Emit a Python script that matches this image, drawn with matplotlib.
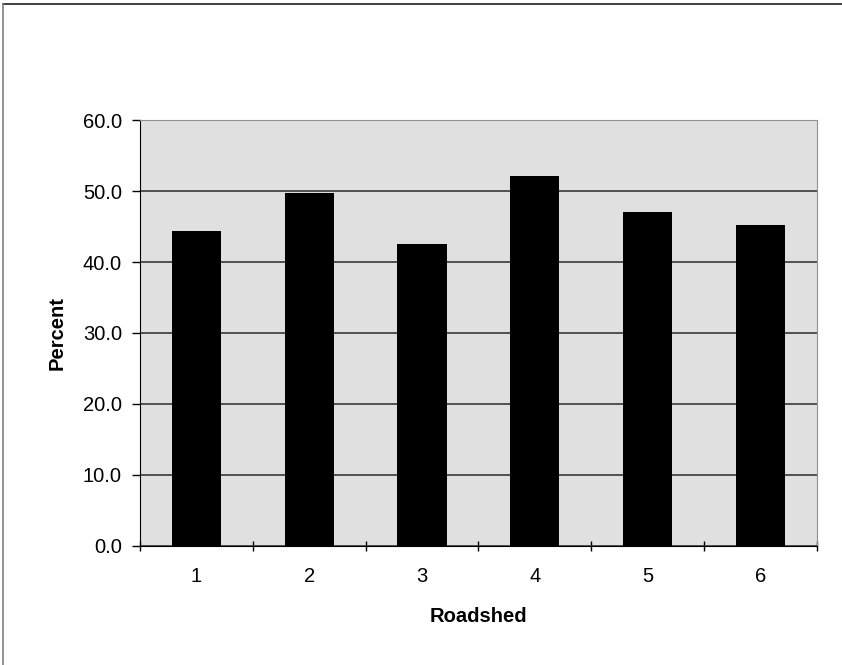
import matplotlib.pyplot as plt
from matplotlib.lines import Line2D

roadsheds = ['1', '2', '3', '4', '5', '6']
percent = [44.4, 49.7, 42.6, 52.1, 47.0, 45.2]
y_ticks = [0, 10, 20, 30, 40, 50, 60]
y_tick_labels = ['%.1f' % v for v in y_ticks]

plt.rcParams['font.family'] = ['Liberation Sans', 'DejaVu Sans']
fs = 14.5

fig = plt.figure(figsize=(8.42, 6.65), dpi=100)
ax = fig.add_axes([0.1663, 0.179, 0.8037, 0.6405])

ax.set_facecolor('#e0e0e0')
x = list(range(len(roadsheds)))
ax.bar(x, percent, width=0.435, color='black', zorder=3)

ax.set_xlim(-0.5, len(roadsheds) - 0.5)
ax.set_ylim(0, 60)
ax.set_yticks(y_ticks)
ax.set_yticklabels(y_tick_labels, fontsize=fs)
ax.yaxis.grid(True, color='#2a2a2a', linewidth=1.1, zorder=1)

# category labels in the middle, tick marks between categories
ax.set_xticks(x)
ax.set_xticklabels(roadsheds, fontsize=fs)
ax.tick_params(axis='x', length=0, pad=15.5)
ax.set_xticks([i - 0.5 for i in range(len(roadsheds) + 1)], minor=True)
ax.tick_params(axis='x', which='minor', length=7, width=1, direction='inout')
ax.tick_params(axis='y', length=6, width=1, direction='out', pad=7)

for side in ['top', 'right']:
    ax.spines[side].set_color('#909090')
for side in ['left', 'bottom']:
    ax.spines[side].set_color('black')

ax.set_xlabel('Roadshed', fontsize=fs, fontweight='bold', labelpad=15)
ax.set_ylabel('Percent', fontsize=fs, fontweight='bold', labelpad=12)

# outer chart border (top and left visible)
fig.add_artist(Line2D([0.004, 1], [0.994, 0.994], color='#202020', linewidth=1.2, transform=fig.transFigure))
fig.add_artist(Line2D([0.004, 0.004], [0, 0.994], color='#808080', linewidth=1.2, transform=fig.transFigure))

plt.savefig('out.png', dpi=100)
